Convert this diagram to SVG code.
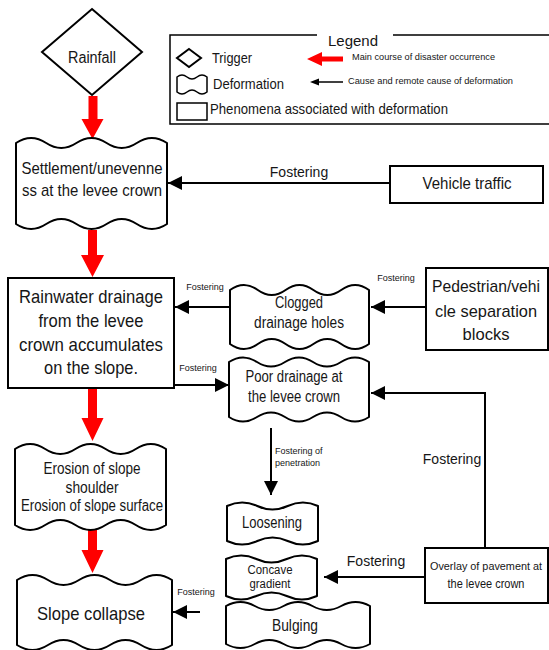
<svg xmlns="http://www.w3.org/2000/svg" width="549" height="650" viewBox="0 0 549 650">
  <style>
    text { font-family: "Liberation Sans", Arial, sans-serif; fill: #161616; }
    .c { text-anchor: middle; }
    .box { fill: #fff; stroke: #000; stroke-width: 2; }
    .wave { fill: #fff; stroke: #000; stroke-width: 2; stroke-linejoin: round; }
    .conn { fill: none; stroke: #000; stroke-width: 2; }
    .red { fill: #ff0000; }
    .lab { font-size: 14px; }
    .sm { font-size: 9px; }
  </style>
  <defs>
    <marker id="ah" markerWidth="14" markerHeight="14" refX="14" refY="7" orient="auto" markerUnits="userSpaceOnUse">
      <path d="M0,0 L14,7 L0,14 Z" fill="#000"/>
    </marker>
  </defs>
  <rect width="549" height="650" fill="#fff"/>

  <!-- Legend -->
  <g id="legend">
    <path d="M317,35 L170,35 L170,124 L552,124 M393,35 L552,35" fill="none" stroke="#000" stroke-width="1.5"/>
    <text x="353" y="46" class="c" font-size="15">Legend</text>
    <polygon points="189,49 201,58 189,67 177,58" fill="#fff" stroke="#000" stroke-width="2"/>
    <text x="212" y="63" font-size="15" textLength="40" lengthAdjust="spacingAndGlyphs">Trigger</text>
    <polygon class="red" points="307,59 322,52 322,56.5 343,56.5 343,61.5 322,61.5 322,66"/>
    <text x="352" y="60" class="sm" textLength="143" lengthAdjust="spacingAndGlyphs">Main course of disaster occurrence</text>
    <path d="M177,77 Q182,73 187,77 T197,77 T207,77 L207,92 Q202,96 197,92 T187,92 T177,92 Z" fill="#fff" stroke="#000" stroke-width="1.5"/>
    <text x="213" y="89" font-size="15" textLength="71" lengthAdjust="spacingAndGlyphs">Deformation</text>
    <line x1="318" y1="82" x2="343" y2="82" stroke="#000" stroke-width="1.5"/>
    <polygon points="310,82 319,78.5 319,85.5" fill="#000"/>
    <text x="348" y="84" class="sm" textLength="165" lengthAdjust="spacingAndGlyphs">Cause and remote cause of deformation</text>
    <rect x="177" y="103" width="30" height="17" fill="#fff" stroke="#000" stroke-width="1.5"/>
    <text x="210" y="114" font-size="15" textLength="238" lengthAdjust="spacingAndGlyphs">Phenomena associated with deformation</text>
  </g>

  <!-- Connectors -->
  <g id="connectors">
    <polygon class="red" points="88.5,96 97.5,96 97.5,119 103.5,119 92.5,139 81.5,119 88.5,119"/>
    <polygon class="red" points="88,230 97,230 97,255 104,255 92.5,277 81,255 88,255"/>
    <polygon class="red" points="88,389 97,389 97,418 103.5,418 92.5,441 81.5,418 88,418"/>
    <polygon class="red" points="88,528 97,528 97,550 103.5,550 92.5,573 81.5,550 88,550"/>

    <path class="conn" d="M390,183 L168,183" marker-end="url(#ah)"/>
    <text x="299" y="177" class="c lab">Fostering</text>

    <path class="conn" d="M230,307 L175,307" marker-end="url(#ah)"/>
    <text x="205" y="290" class="c sm">Fostering</text>

    <path class="conn" d="M426,307 L371,307" marker-end="url(#ah)"/>
    <text x="396" y="281" class="c sm">Fostering</text>

    <path class="conn" d="M175,385 L229,385" marker-end="url(#ah)"/>
    <text x="198" y="371" class="c sm">Fostering</text>

    <path class="conn" d="M485,548 L485,393 L371,393" marker-end="url(#ah)"/>
    <text x="452" y="464" class="c lab">Fostering</text>

    <path class="conn" d="M271,428 L271,495" marker-end="url(#ah)"/>
    <text x="275" y="454" class="sm">Fostering of</text>
    <text x="275" y="466" class="sm">penetration</text>

    <path class="conn" d="M425,577 L324,577" marker-end="url(#ah)"/>
    <text x="376" y="566" class="c lab">Fostering</text>

    <path class="conn" d="M200,612 L173,612" marker-end="url(#ah)"/>
    <text x="196" y="595" class="c sm">Fostering</text>
  </g>

  <!-- Nodes -->
  <g id="rainfall">
    <polygon points="92,9 142,52 92,95 42,52" fill="#fff" stroke="#000" stroke-width="2"/>
    <text x="92" y="63" class="c" font-size="16" textLength="48" lengthAdjust="spacingAndGlyphs">Rainfall</text>
  </g>

  <g id="settlement">
    <path class="wave" d="M16,143 Q31.1,133 46.2,143 T76.4,143 T106.6,143 T136.8,143 T167,143 L167,224 Q151.9,234 136.8,224 T106.6,224 T76.4,224 T46.2,224 T16,224 Z"/>
    <text x="92" y="174" class="c" font-size="17" textLength="141" lengthAdjust="spacingAndGlyphs">Settlement/unevenne</text>
    <text x="92" y="196" class="c" font-size="17" textLength="140" lengthAdjust="spacingAndGlyphs">ss at the levee crown</text>
  </g>

  <g id="vehicle">
    <rect class="box" x="390" y="166" width="153" height="37"/>
    <text x="467" y="189" class="c" font-size="17" textLength="89" lengthAdjust="spacingAndGlyphs">Vehicle traffic</text>
  </g>

  <g id="rainwater">
    <rect class="box" x="8" y="278" width="166" height="110" stroke-width="2.5"/>
    <text x="91" y="303" class="c" font-size="19" textLength="144" lengthAdjust="spacingAndGlyphs">Rainwater drainage</text>
    <text x="91" y="327" class="c" font-size="19" textLength="105" lengthAdjust="spacingAndGlyphs">from the levee</text>
    <text x="91" y="351" class="c" font-size="19" textLength="144" lengthAdjust="spacingAndGlyphs">crown accumulates</text>
    <text x="91" y="374" class="c" font-size="19" textLength="94" lengthAdjust="spacingAndGlyphs">on the slope.</text>
  </g>

  <g id="clogged">
    <path class="wave" d="M230,290 Q243.9,280 257.8,290 T285.6,290 T313.4,290 T341.2,290 T369,290 L369,344 Q355.1,354 341.2,344 T313.4,344 T285.6,344 T257.8,344 T230,344 Z"/>
    <text x="299" y="308" class="c" font-size="16" textLength="48" lengthAdjust="spacingAndGlyphs">Clogged</text>
    <text x="299" y="328" class="c" font-size="16" textLength="90" lengthAdjust="spacingAndGlyphs">drainage holes</text>
  </g>

  <g id="pedestrian">
    <rect class="box" x="426" y="268" width="122" height="82"/>
    <text x="486" y="292" class="c" font-size="17" textLength="108" lengthAdjust="spacingAndGlyphs">Pedestrian/vehi</text>
    <text x="486" y="317" class="c" font-size="17" textLength="102" lengthAdjust="spacingAndGlyphs">cle separation</text>
    <text x="486" y="340" class="c" font-size="17" textLength="47" lengthAdjust="spacingAndGlyphs">blocks</text>
  </g>

  <g id="poor-drainage">
    <path class="wave" d="M229,362 Q243,353 257,362 T285,362 T313,362 T341,362 T369,362 L369,417 Q355,426 341,417 T313,417 T285,417 T257,417 T229,417 Z"/>
    <text x="294" y="382" class="c" font-size="16" textLength="97" lengthAdjust="spacingAndGlyphs">Poor drainage at</text>
    <text x="294" y="402" class="c" font-size="16" textLength="92" lengthAdjust="spacingAndGlyphs">the levee crown</text>
  </g>

  <g id="erosion">
    <path class="wave" d="M15,449 Q30.1,439 45.2,449 T75.4,449 T105.6,449 T135.8,449 T166,449 L166,525 Q150.9,535 135.8,525 T105.6,525 T75.4,525 T45.2,525 T15,525 Z"/>
    <text x="92" y="474" class="c" font-size="16" textLength="97" lengthAdjust="spacingAndGlyphs">Erosion of slope</text>
    <text x="92" y="493" class="c" font-size="16" textLength="53" lengthAdjust="spacingAndGlyphs">shoulder</text>
    <text x="92" y="511" class="c" font-size="16" textLength="142" lengthAdjust="spacingAndGlyphs">Erosion of slope surface</text>
  </g>

  <g id="loosening">
    <path class="wave" d="M227,506 Q242.2,499 257.3,506 T287.7,506 T318,506 L318,541 Q302.8,548 287.7,541 T257.3,541 T227,541 Z"/>
    <text x="272" y="528" class="c" font-size="16" textLength="60" lengthAdjust="spacingAndGlyphs">Loosening</text>
  </g>

  <g id="concave">
    <path class="wave" d="M226,559 Q241.2,552 256.3,559 T286.7,559 T317,559 L317,596 Q301.8,603 286.7,596 T256.3,596 T226,596 Z"/>
    <text x="270" y="574" class="c" font-size="12" textLength="45" lengthAdjust="spacingAndGlyphs">Concave</text>
    <text x="270" y="588" class="c" font-size="12" textLength="41" lengthAdjust="spacingAndGlyphs">gradient</text>
  </g>

  <g id="bulging">
    <path class="wave" d="M226,606 Q240.4,598 254.8,606 T283.6,606 T312.4,606 T341.2,606 T370,606 L370,644 Q355.6,652 341.2,644 T312.4,644 T283.6,644 T254.8,644 T226,644 Z"/>
    <text x="295" y="631" class="c" font-size="17" textLength="46" lengthAdjust="spacingAndGlyphs">Bulging</text>
  </g>

  <g id="overlay">
    <rect class="box" x="425" y="548" width="123" height="55"/>
    <text x="486" y="570" class="c" font-size="11.5" textLength="112" lengthAdjust="spacingAndGlyphs">Overlay of pavement at</text>
    <text x="486" y="588" class="c" font-size="12.5" textLength="77" lengthAdjust="spacingAndGlyphs">the levee crown</text>
  </g>

  <g id="slope-collapse">
    <path class="wave" stroke-width="4" d="M17,580 Q32.5,570 48,580 T79,580 T110,580 T141,580 T172,580 L172,645 Q156.5,655 141,645 T110,645 T79,645 T48,645 T17,645 Z"/>
    <text x="91" y="620" class="c" font-size="19" textLength="108" lengthAdjust="spacingAndGlyphs">Slope collapse</text>
  </g>
</svg>
